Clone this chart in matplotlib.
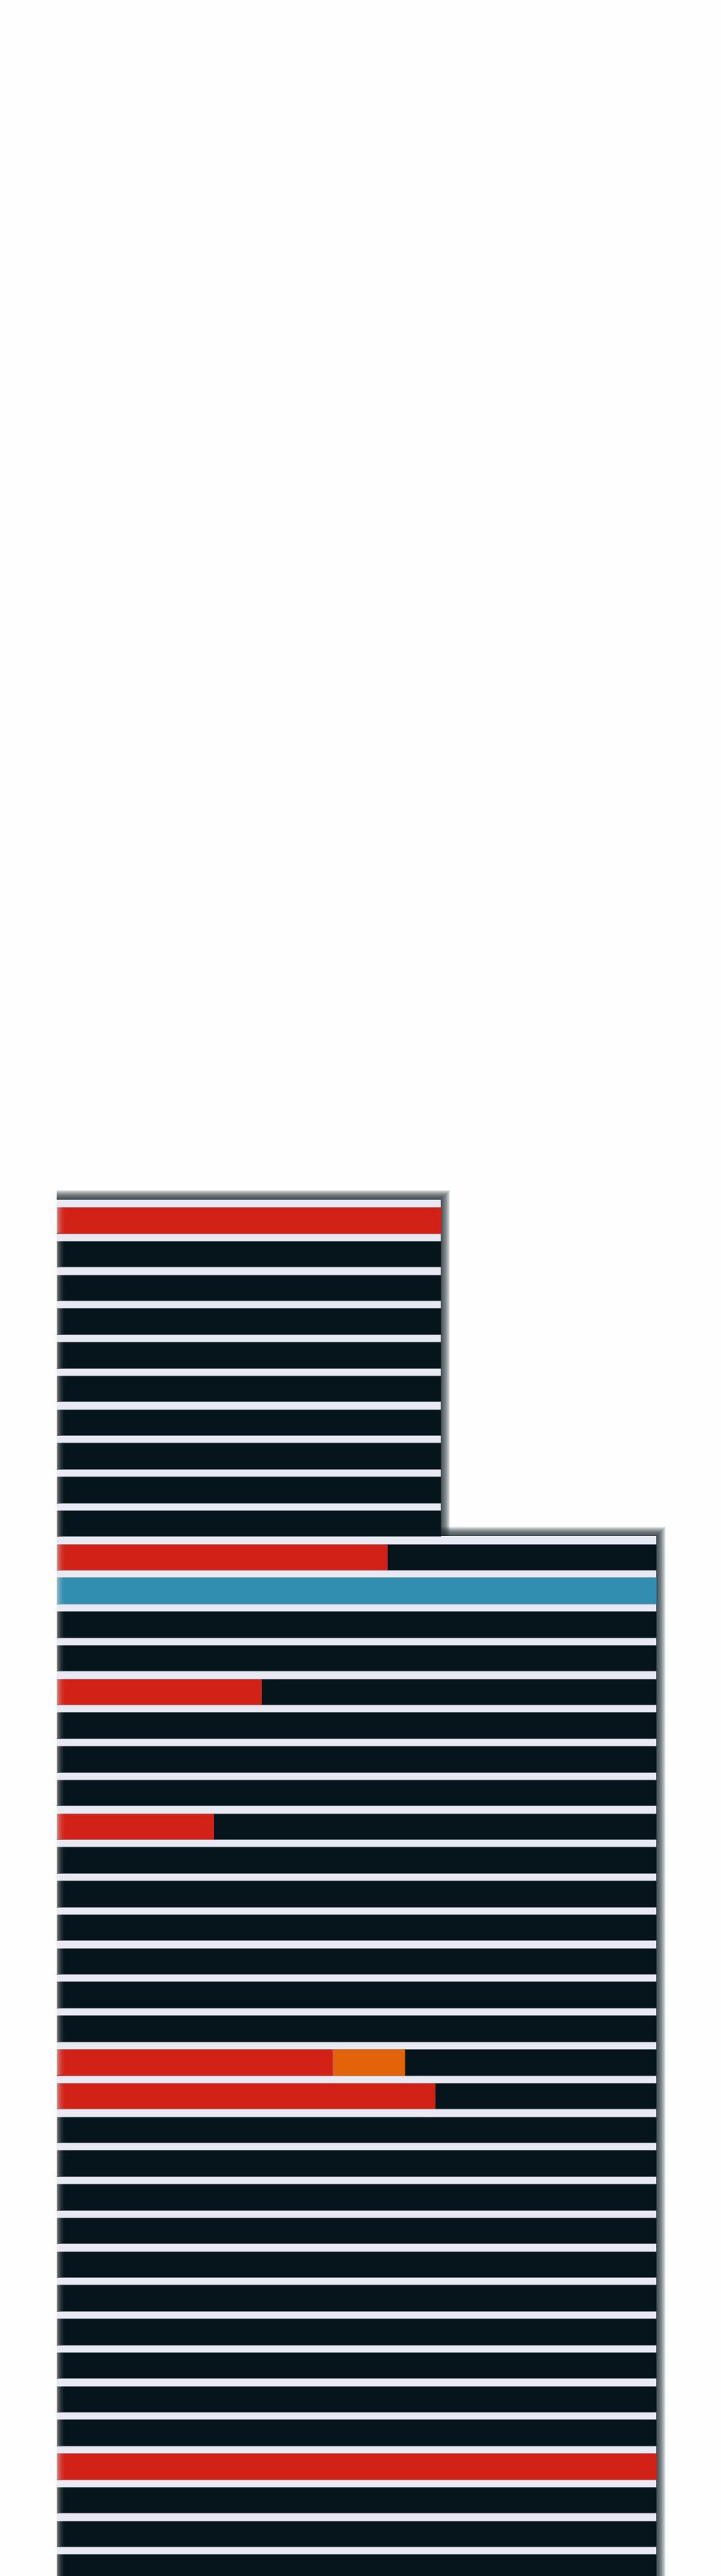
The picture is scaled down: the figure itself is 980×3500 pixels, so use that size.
import numpy as np
import matplotlib.pyplot as plt
from matplotlib.patches import Rectangle

# row data (one row per bar, top to bottom), values on a 0-100 scale
rows = list(range(41))
row_total = [64] * 10 + [100] * 31
red = [64, 0, 0, 0, 0, 0, 0, 0, 0, 0,
       55.1, 0, 0, 0, 34.1, 0, 0, 0, 26.1, 0,
       0, 0, 0, 0, 0, 46.0, 63.1, 0, 0, 0,
       0, 0, 0, 0, 0, 0, 0, 100, 0, 0,
       0]
orange = [0] * 25 + [12.0] + [0] * 15
blue = [0] * 11 + [100] + [0] * 29

# colours
DARK = "#06141b"
RED = "#d22218"
ORANGE = "#e26308"
BLUE = "#318eb1"
LIGHT = "#e9e9f3"
BG = "#fefefe"

# layout (pixels of the 980x3500 output)
W, H = 980, 3500
x0_px = 77
unit_px = 8.15
first_bar_top = 1640
pitch_px = 45.76
bar_px = 35.5

fig = plt.figure(figsize=(W / 100, H / 100), dpi=100)
fig.patch.set_facecolor(BG)
ax = fig.add_axes([0, 0, 1, 1])
ax.set_facecolor(BG)
ax.axis("off")

center0 = first_bar_top + bar_px / 2
bar_h = bar_px / pitch_px
gap = 1 - bar_h

y = np.array(rows, dtype=float)
tot = np.array(row_total, dtype=float)
r = np.array(red, dtype=float)
o = np.array(orange, dtype=float)
b = np.array(blue, dtype=float)
d = tot - r - o - b

# soft shadow behind the two blocks (top and right side)
blocks = [(0, 9, 64), (10, 40, 100)]
for a, z, w in blocks:
    top = a - 1 + bar_h / 2
    bottom = z + bar_h / 2
    for k in np.linspace(0.3, 13, 26):
        dx = k / unit_px
        dy = k / pitch_px
        ax.add_patch(Rectangle((0, top - dy), w + dx, bottom - top + 2 * dy,
                               facecolor="#1c2a30", edgecolor="none", alpha=0.06, zorder=1))

# light band behind every row
ax.barh(y - gap / 2, tot, height=1.0, left=0, color=LIGHT, zorder=2)

# segments
edge = (0.30, 0.33, 0.37, 0.4)
segs = [(r, np.zeros_like(r), RED),
        (o, r, ORANGE),
        (b, r + o, BLUE),
        (d, r + o + b, DARK)]
for width, left, col in segs:
    m = width > 0
    ax.barh(y[m], width[m], left=left[m], height=bar_h, color=col,
            edgecolor=edge, linewidth=0.5, zorder=3)

# faded left edge of the bars
fade_l = np.zeros((1, 32, 4))
fade_l[..., :3] = 1
fade_l[..., 3] = 0.45 * np.linspace(1, 0, 32) ** 2
for yi in y:
    ax.imshow(fade_l, extent=(0, 13 / unit_px, yi + bar_h / 2, yi - bar_h / 2),
              aspect="auto", interpolation="bilinear", zorder=4)

ax.set_xlim(-x0_px / unit_px, (W - x0_px) / unit_px)
ax.set_ylim((H - center0) / pitch_px, -center0 / pitch_px)

fig.savefig("out.png", dpi=100, facecolor=BG)
